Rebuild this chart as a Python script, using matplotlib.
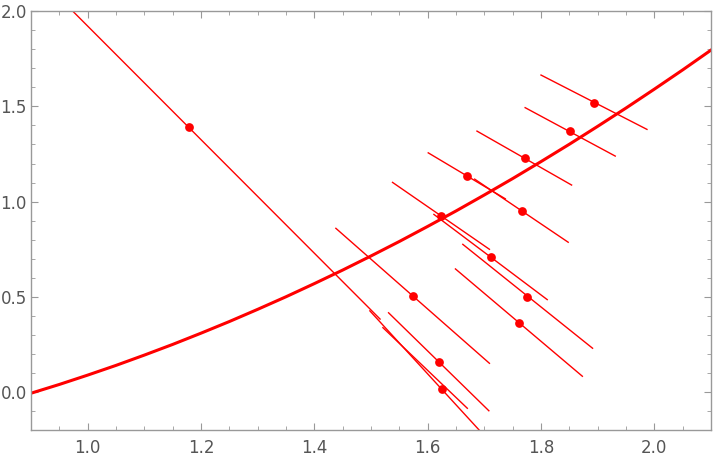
import matplotlib
matplotlib.use("Agg")
import matplotlib.pyplot as plt
from matplotlib.ticker import MultipleLocator

# thick curve, read at x = 0.9 ... 2.1 (step 0.05)
curve_x = [0.9, 0.95, 1.0, 1.05, 1.1, 1.15, 1.2, 1.25, 1.3, 1.35, 1.4, 1.45, 1.5,
           1.55, 1.6, 1.65, 1.7, 1.75, 1.8, 1.85, 1.9, 1.95, 2.0, 2.05, 2.1]
curve_y = [-0.005, 0.041, 0.09, 0.141, 0.195, 0.251, 0.31, 0.371, 0.435, 0.501, 0.57, 0.641, 0.715,
           0.791, 0.87, 0.951, 1.035, 1.121, 1.21, 1.301, 1.395, 1.491, 1.59, 1.691, 1.795]

# dots
pts_x = [1.178, 1.894, 1.852, 1.771, 1.669, 1.766, 1.624, 1.711, 1.574, 1.776, 1.761, 1.620, 1.625]
pts_y = [1.390, 1.519, 1.368, 1.229, 1.136, 0.952, 0.926, 0.708, 0.505, 0.500, 0.364, 0.161, 0.016]

# thin segments: x0, y0, x1, y1
seg_x0 = [0.960, 1.498, 1.800, 1.772, 1.687, 1.601, 1.683, 1.538, 1.611, 1.438, 1.662, 1.649, 1.531, 1.521]
seg_y0 = [2.040, 0.427, 1.664, 1.493, 1.370, 1.256, 1.118, 1.101, 0.933, 0.860, 0.776, 0.647, 0.417, 0.339]
seg_x1 = [1.516, 1.701, 1.987, 1.931, 1.854, 1.737, 1.848, 1.709, 1.811, 1.709, 1.891, 1.873, 1.708, 1.670]
seg_y1 = [0.384, -0.231, 1.379, 1.239, 1.087, 1.015, 0.787, 0.750, 0.486, 0.152, 0.231, 0.084, -0.097, -0.084]

red = (1.0, 0.0, 0.0)
gray = "#999999"

fig = plt.figure(figsize=(7.13, 4.59), dpi=100)
ax = fig.add_axes([31 / 713, 28.6 / 459, 680 / 713, 419.4 / 459])

for i in range(len(seg_x0)):
    ax.plot([seg_x0[i], seg_x1[i]], [seg_y0[i], seg_y1[i]], color=red, linewidth=1.0)

ax.plot(curve_x, curve_y, color=red, linewidth=2.2)
ax.plot(pts_x, pts_y, "o", color=red, markersize=6.3, markeredgewidth=0)

ax.set_xlim(0.9, 2.1)
ax.set_ylim(-0.2, 2.0)
ax.xaxis.set_major_locator(MultipleLocator(0.2))
ax.xaxis.set_minor_locator(MultipleLocator(0.05))
ax.yaxis.set_major_locator(MultipleLocator(0.5))
ax.yaxis.set_minor_locator(MultipleLocator(0.1))
ax.xaxis.set_major_formatter(plt.FormatStrFormatter("%.1f"))
ax.yaxis.set_major_formatter(plt.FormatStrFormatter("%.1f"))

ax.tick_params(which="both", direction="in", top=True, right=True, color=gray,
               labelcolor="#555555", labelsize=12)
ax.tick_params(which="major", length=5, width=0.8)
ax.tick_params(which="minor", length=3, width=0.6)
ax.tick_params(axis="x", pad=6)
ax.tick_params(axis="y", pad=3)
for s in ax.spines.values():
    s.set_color(gray)
    s.set_linewidth(1.0)

fig.savefig("out.png", dpi=100)
